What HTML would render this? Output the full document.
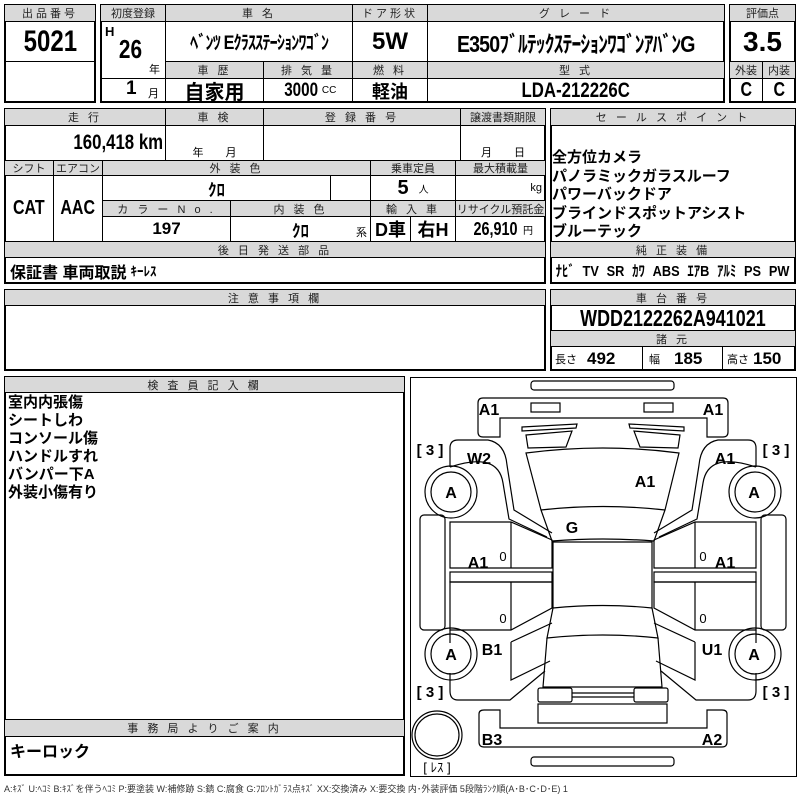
<!DOCTYPE html>
<html><head><meta charset="utf-8">
<style>
*{margin:0;padding:0;box-sizing:border-box}
body{width:800px;height:800px;background:#fff;position:relative;overflow:hidden;font-family:"Liberation Sans","Noto Sans CJK JP",sans-serif;color:#000}
.c{position:absolute;border:1px solid #000;display:flex;align-items:center;justify-content:center;white-space:nowrap;overflow:hidden}
.h{background:#d9d9d9;font-size:11px;letter-spacing:3px;color:#222}
.v{font-weight:bold;font-size:20px}
.n{display:inline-block;transform:scaleX(.8)}
.b{position:absolute;border:2px solid #000}
.t{position:absolute;white-space:nowrap}
</style></head><body>
<div class="b" style="left:4px;top:4px;width:92px;height:99px"></div>
<div class="c h" style="left:4px;top:4px;width:92px;height:18px">出品番号</div>
<div class="c v" style="left:4px;top:21px;width:92px;height:41px;font-size:30px"><span class="n">5021</span></div>
<div class="b" style="left:100px;top:4px;width:625px;height:99px"></div>
<div class="c h" style="left:100px;top:4px;width:66px;height:18px;letter-spacing:0">初度登録</div>
<div class="c h" style="left:165px;top:4px;width:188px;height:18px">車 名</div>
<div class="c h" style="left:352px;top:4px;width:76px;height:18px">ドア形状</div>
<div class="c h" style="left:427px;top:4px;width:298px;height:18px">グ レ ー ド</div>
<div class="c" style="left:100px;top:21px;width:66px;height:58px"></div>
<div class="t v" style="left:105px;top:24px;font-size:13px">H</div>
<div class="t v" style="left:116px;top:34px;font-size:26px"><span class="n">26</span></div>
<div class="t" style="left:149px;top:61px;font-size:11px">年</div>
<div class="c v" style="left:165px;top:21px;width:188px;height:41px;font-size:19px;letter-spacing:-1px"><span class="n" style="transform:scaleX(.85)">ﾍﾞﾝﾂ Eｸﾗｽｽﾃｰｼｮﾝﾜｺﾞﾝ</span></div>
<div class="c v" style="left:352px;top:21px;width:76px;height:41px;font-size:24px">5W</div>
<div class="c v" style="left:427px;top:21px;width:298px;height:41px;font-size:23px;letter-spacing:-1px"><span class="n" style="transform:scaleX(.85)">E350ﾌﾞﾙﾃｯｸｽﾃｰｼｮﾝﾜｺﾞﾝｱﾊﾞﾝG</span></div>
<div class="c h" style="left:165px;top:61px;width:99px;height:18px">車 歴</div>
<div class="c h" style="left:263px;top:61px;width:90px;height:18px">排 気 量</div>
<div class="c h" style="left:352px;top:61px;width:76px;height:18px">燃 料</div>
<div class="c h" style="left:427px;top:61px;width:298px;height:18px">型 式</div>
<div class="c" style="left:100px;top:78px;width:66px;height:25px"></div>
<div class="t v" style="left:126px;top:78px;font-size:19px">1</div>
<div class="t" style="left:148px;top:85px;font-size:11px">月</div>
<div class="c v" style="left:165px;top:78px;width:99px;height:25px;font-size:20px">自家用</div>
<div class="c v" style="left:263px;top:78px;width:90px;height:25px;font-size:19px"><span class="n">3000</span><span style="font-size:10px;font-weight:normal">CC</span></div>
<div class="c v" style="left:352px;top:78px;width:76px;height:25px;font-size:18px">軽油</div>
<div class="c v" style="left:427px;top:78px;width:298px;height:25px;font-size:21px"><span class="n">LDA-212226C</span></div>
<div class="b" style="left:729px;top:4px;width:67px;height:99px"></div>
<div class="c h" style="left:729px;top:4px;width:67px;height:18px;letter-spacing:0">評価点</div>
<div class="c v" style="left:729px;top:21px;width:67px;height:41px;font-size:28px">3.5</div>
<div class="c h" style="left:729px;top:61px;width:34px;height:18px;letter-spacing:0">外装</div>
<div class="c h" style="left:762px;top:61px;width:34px;height:18px;letter-spacing:0">内装</div>
<div class="c v" style="left:729px;top:78px;width:34px;height:25px"><span class="n">C</span></div>
<div class="c v" style="left:762px;top:78px;width:34px;height:25px"><span class="n">C</span></div>
<div class="b" style="left:4px;top:108px;width:542px;height:176px"></div>
<div class="c h" style="left:4px;top:108px;width:162px;height:18px">走 行</div>
<div class="c h" style="left:165px;top:108px;width:99px;height:18px">車 検</div>
<div class="c h" style="left:263px;top:108px;width:198px;height:18px">登 録 番 号</div>
<div class="c h" style="left:460px;top:108px;width:86px;height:18px;letter-spacing:0">譲渡書類期限</div>
<div class="c v" style="left:4px;top:125px;width:162px;height:36px;justify-content:flex-end;padding-right:2px;font-size:21px"><span class="n" style="transform-origin:right">160,418 km</span></div>
<div class="c" style="left:165px;top:125px;width:99px;height:36px;align-items:flex-end;font-size:11px">年　　月</div>
<div class="c" style="left:263px;top:125px;width:198px;height:36px"></div>
<div class="c" style="left:460px;top:125px;width:86px;height:36px;align-items:flex-end;font-size:11px">月　　日</div>
<div class="c h" style="left:4px;top:160px;width:50px;height:16px;letter-spacing:0">シフト</div>
<div class="c h" style="left:53px;top:160px;width:50px;height:16px;letter-spacing:0">エアコン</div>
<div class="c h" style="left:102px;top:160px;width:269px;height:16px">外 装 色</div>
<div class="c h" style="left:370px;top:160px;width:86px;height:16px;letter-spacing:0">乗車定員</div>
<div class="c h" style="left:455px;top:160px;width:91px;height:16px;letter-spacing:0">最大積載量</div>
<div class="c v" style="left:4px;top:175px;width:50px;height:67px"><span class="n">CAT</span></div>
<div class="c v" style="left:53px;top:175px;width:50px;height:67px"><span class="n">AAC</span></div>
<div class="c v" style="left:102px;top:175px;width:229px;height:26px;font-size:17px">ｸﾛ</div>
<div class="c" style="left:330px;top:175px;width:41px;height:26px"></div>
<div class="c v" style="left:370px;top:175px;width:86px;height:26px">5 <span style="font-size:10px;font-weight:normal;margin-left:10px">人</span></div>
<div class="c" style="left:455px;top:175px;width:91px;height:26px;justify-content:flex-end;padding-right:3px;font-size:11px">kg</div>
<div class="c h" style="left:102px;top:200px;width:129px;height:17px">カ ラ ー N o .</div>
<div class="c h" style="left:230px;top:200px;width:141px;height:17px">内 装 色</div>
<div class="c h" style="left:370px;top:200px;width:86px;height:17px">輸 入 車</div>
<div class="c h" style="left:455px;top:200px;width:91px;height:17px;letter-spacing:0">リサイクル預託金</div>
<div class="c v" style="left:102px;top:216px;width:129px;height:26px;font-size:17px">197</div>
<div class="c v" style="left:230px;top:216px;width:141px;height:26px;font-size:17px">ｸﾛ</div>
<div class="t" style="left:356px;top:224px;font-size:11px">系</div>
<div class="c v" style="left:370px;top:216px;width:41px;height:26px;font-size:18px">D車</div>
<div class="c v" style="left:410px;top:216px;width:46px;height:26px;font-size:18px">右H</div>
<div class="c v" style="left:455px;top:216px;width:91px;height:26px;font-size:18px"><span class="n">26,910</span><span style="font-size:10px;font-weight:normal">円</span></div>
<div class="c h" style="left:4px;top:241px;width:542px;height:17px">後 日 発 送 部 品</div>
<div class="c v" style="left:4px;top:257px;width:542px;height:27px;justify-content:flex-start;padding-left:5px;font-size:16px">保証書 車両取説 <span style="font-size:13px;margin-left:4px">ｷｰﾚｽ</span></div>
<div class="b" style="left:550px;top:108px;width:246px;height:176px"></div>
<div class="c h" style="left:550px;top:108px;width:246px;height:18px">セ ー ル ス ポ イ ン ト</div>
<div class="t" style="left:552px;top:149px;font-size:15px;font-weight:bold;line-height:18.5px">全方位カメラ<br>パノラミックガラスルーフ<br>パワーバックドア<br>ブラインドスポットアシスト<br>ブルーテック</div>
<div class="c h" style="left:550px;top:241px;width:246px;height:17px">純 正 装 備</div>
<div class="c v" style="left:550px;top:257px;width:246px;height:27px;font-size:15px;word-spacing:5px"><span class="n" style="transform:scaleX(.85)">ﾅﾋﾞ TV SR ｶﾜ ABS ｴｱB ｱﾙﾐ PS PW</span></div>
<div class="b" style="left:4px;top:289px;width:542px;height:82px"></div>
<div class="c h" style="left:4px;top:289px;width:542px;height:17px">注 意 事 項 欄</div>
<div class="b" style="left:550px;top:289px;width:246px;height:82px"></div>
<div class="c h" style="left:550px;top:289px;width:246px;height:17px">車 台 番 号</div>
<div class="c v" style="left:550px;top:305px;width:246px;height:26px;font-size:23px"><span class="n" style="transform:scaleX(.78)">WDD2122262A941021</span></div>
<div class="c h" style="left:550px;top:330px;width:246px;height:17px">諸 元</div>
<div class="c" style="left:550px;top:346px;width:93px;height:25px;font-size:11px;justify-content:flex-start;padding-left:4px">長さ <b style="font-size:17px;margin-left:10px">492</b></div>
<div class="c" style="left:642px;top:346px;width:81px;height:25px;font-size:11px;justify-content:flex-start;padding-left:6px">幅 <b style="font-size:17px;margin-left:14px">185</b></div>
<div class="c" style="left:722px;top:346px;width:74px;height:25px;font-size:11px;justify-content:flex-start;padding-left:4px">高さ <b style="font-size:17px;margin-left:4px">150</b></div>
<div class="b" style="left:4px;top:376px;width:401px;height:400px"></div>
<div class="c h" style="left:4px;top:376px;width:401px;height:17px">検 査 員 記 入 欄</div>
<div class="t" style="left:8px;top:394px;font-size:15px;font-weight:bold;line-height:18px">室内内張傷<br>シートしわ<br>コンソール傷<br>ハンドルすれ<br>バンパー下A<br>外装小傷有り</div>
<div class="c h" style="left:4px;top:719px;width:401px;height:18px">事 務 局 よ り ご 案 内</div>
<div class="t" style="left:10px;top:738px;font-size:16px;font-weight:bold">キーロック</div>
<div class="b" style="left:410px;top:377px;width:387px;height:400px;border-width:1px"></div>
<svg style="position:absolute;left:0;top:0" width="800" height="800" viewBox="0 0 800 800" fill="none" stroke="#000" stroke-width="1.2">
<rect x="531" y="381" width="143" height="9" rx="3"/>
<rect x="531" y="757" width="143" height="9" rx="3"/>
<path d="M478,432 V403 Q478,398 483,398 H723 Q728,398 728,403 V432 Q728,437 723,437 H707 V418 H500 V437 H483 Q478,437 478,432Z"/>
<rect x="531" y="403" width="29" height="9"/><rect x="644" y="403" width="29" height="9"/>
<path d="M479,714 V742 Q479,747 484,747 H722 Q727,747 727,742 V714 Q727,710 722,710 H707 V728 H500 V710 H484 Q479,710 479,714Z"/>
<path d="M522,427 L577,424 L576,428 L522,431Z"/>
<path d="M526,435 L572,431 L566,447 L528,448Z"/>
<path d="M684,427 L629,424 L630,428 L684,431Z"/>
<path d="M680,435 L634,431 L640,447 L678,448Z"/>
<path d="M526,453 Q603,443 679,453 L665,510 Q603,503 541,510Z"/>
<path d="M541,510 L552,541 Q603,537 654,541 L665,510"/>
<path d="M553,542 H652 V608 Q603,603 553,608Z"/>
<path d="M553,608 L547,638 Q603,632 658,638 L652,608"/>
<path d="M547,638 L543,687 H662 L658,638"/>
<rect x="538" y="688" width="34" height="14" rx="2"/><rect x="634" y="688" width="34" height="14" rx="2"/>
<line x1="572" y1="693" x2="634" y2="693"/><line x1="572" y1="697" x2="634" y2="697"/>
<rect x="538" y="704" width="129" height="19"/>
<g id="side">
<path d="M450,467 V448 Q450,440 458,440 H488 Q505,443 507,465 L514,510 L552,533 M547,537 L509,519 L503,483 Q498,451 450,467"/>
<path d="M450,522 H511 L552,540 V568 H450Z M511,522 V568"/>
<rect x="450" y="572" width="102" height="10"/>
<path d="M450,582 H552 V608 L511,630 H450Z M511,582 V630"/>
<path d="M511,642 L552,623 M511,642 V680 L550,661 M450,673 V691 Q450,700 458,700 H510 L545,671 M450,643 V630"/>
<rect x="420" y="515" width="25" height="115" rx="4"/>
<circle cx="451" cy="492" r="26"/><circle cx="451" cy="492" r="20"/>
<circle cx="451" cy="654" r="26"/><circle cx="451" cy="654" r="20"/>
</g>
<use href="#side" transform="translate(1206,0) scale(-1,1)"/>
<ellipse cx="437" cy="735" rx="25" ry="24"/><ellipse cx="437" cy="735" rx="22" ry="21"/>
<g fill="#000" stroke="none" font-family="Liberation Sans, sans-serif" font-weight="bold" font-size="16" text-anchor="middle">
<text x="489" y="415">A1</text><text x="713" y="415">A1</text>
<text x="479" y="464">W2</text><text x="725" y="464">A1</text>
<text x="645" y="487">A1</text><text x="572" y="533">G</text>
<text x="478" y="568">A1</text><text x="725" y="568">A1</text>
<text x="492" y="655">B1</text><text x="712" y="655">U1</text>
<text x="492" y="745">B3</text><text x="712" y="745">A2</text>
<text x="451" y="498">A</text><text x="754" y="498">A</text>
<text x="451" y="660">A</text><text x="754" y="660">A</text>
</g>
<g fill="#000" stroke="none" font-family="Liberation Sans, sans-serif" font-size="13" text-anchor="middle">
<text x="503" y="561">0</text><text x="503" y="623">0</text><text x="703" y="561">0</text><text x="703" y="623">0</text>
<text x="430" y="455" font-weight="bold" font-size="15">[ 3 ]</text><text x="776" y="455" font-weight="bold" font-size="15">[ 3 ]</text>
<text x="430" y="697" font-weight="bold" font-size="15">[ 3 ]</text><text x="776" y="697" font-weight="bold" font-size="15">[ 3 ]</text>
<text x="437" y="772" font-size="13" font-family="Liberation Sans, Noto Sans CJK JP, sans-serif">[ ﾚｽ ]</text>
</g>
</svg>
<div class="t" style="left:4px;top:782px;font-size:9px;color:#333">A:ｷｽﾞ U:ﾍｺﾐ B:ｷｽﾞを伴うﾍｺﾐ P:要塗装 W:補修跡 S:錆 C:腐食 G:ﾌﾛﾝﾄｶﾞﾗｽ点ｷｽﾞ XX:交換済み X:要交換 内･外装評価 5段階ﾗﾝｸ順(A･B･C･D･E) 1</div>
</body></html>
